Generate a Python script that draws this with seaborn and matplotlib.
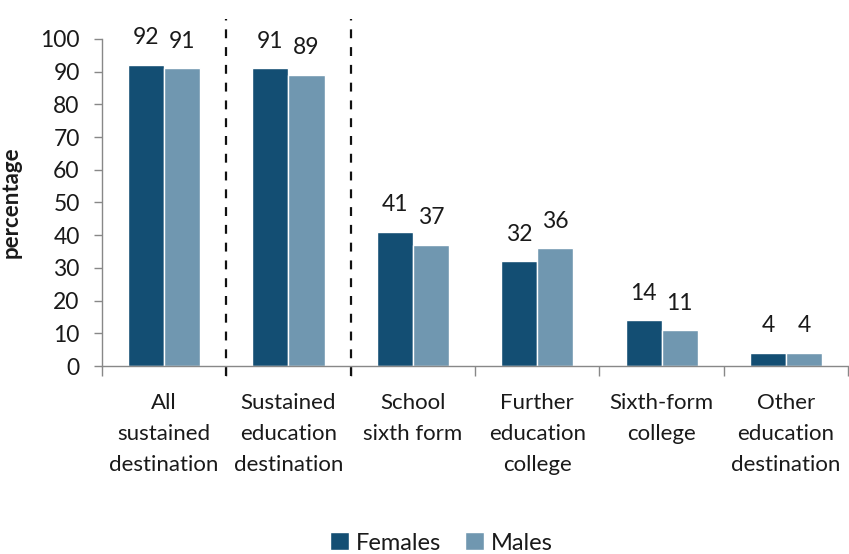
import matplotlib
matplotlib.use("Agg")
import matplotlib.pyplot as plt
import seaborn as sns
import pandas as pd
from matplotlib.ticker import MultipleLocator, FixedLocator

categories = ["All\nsustained\ndestination", "Sustained\neducation\ndestination",
              "School\nsixth form", "Further\neducation\ncollege",
              "Sixth-form\ncollege", "Other\neducation\ndestination"]
females = [92, 91, 41, 32, 14, 4]
males = [91, 89, 37, 36, 11, 4]
series = ["Females", "Males"]
colors = ["#134E73", "#7097B0"]

df = pd.DataFrame({
    "category": categories * 2,
    "value": females + males,
    "sex": [series[0]] * len(categories) + [series[1]] * len(categories),
})

sns.set_style("white")
plt.rcParams["font.family"] = ["Lato", "DejaVu Sans"]
TXT = "#1a1a1a"

fig = plt.figure(figsize=(8.49, 5.54), dpi=100)
ax = fig.add_axes([0.120, 0.339, 0.879, 0.591])

sns.barplot(data=df, x="category", y="value", hue="sex", palette=colors,
            width=0.58, ax=ax, saturation=1, legend=True, errorbar=None)

for c in ax.containers:
    ax.bar_label(c, labels=[f"{v:g}" for v in c.datavalues], padding=12, fontsize=16.5, color=TXT)

ax.set_ylim(0, 100)
ax.set_xlim(-0.5, len(categories) - 0.5)
ax.yaxis.set_major_locator(MultipleLocator(10))
ax.tick_params(axis="y", labelsize=16.5, length=6, width=1, color="#888888", pad=10, left=True, labelcolor=TXT)
ax.tick_params(axis="x", which="major", labelsize=16, length=0, pad=19, labelcolor=TXT)
ax.xaxis.set_minor_locator(FixedLocator([i - 0.5 for i in range(len(categories) + 1)]))
ax.tick_params(axis="x", which="minor", length=7, width=1, color="#888888", bottom=True)
for lbl in ax.get_xticklabels():
    lbl.set_linespacing(1.7)

ax.set_xlabel("")
ax.set_ylabel("percentage", fontsize=16, fontweight="bold", color=TXT)
ax.yaxis.set_label_coords(-0.108, 0.5)

for s in ["top", "right"]:
    ax.spines[s].set_visible(False)
for s in ["left", "bottom"]:
    ax.spines[s].set_color("#888888")
    ax.spines[s].set_linewidth(1)

for xv in [0.5, 1.5]:
    ax.plot([xv, xv], [-3, 106], linestyle=(0, (4, 4)), color="#111111", lw=1.6, clip_on=False)

handles, labels = ax.get_legend_handles_labels()
ax.legend_.remove()
fig.legend(handles, labels, loc="center", bbox_to_anchor=(0.52, 0.02), ncol=2, frameon=False,
           fontsize=17, handlelength=0.8, handleheight=0.8, handletextpad=0.3, columnspacing=1.0,
           labelcolor=TXT)

fig.savefig("out.png", dpi=100)
